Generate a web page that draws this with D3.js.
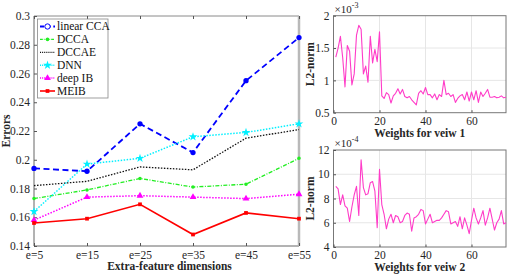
<!DOCTYPE html>
<html>
<head>
<meta charset="utf-8">
<script src="https://cdn.jsdelivr.net/npm/d3@7"></script>
<style>
  body { margin: 0; background: #fff; }
  svg { font-family: "Liberation Serif", "Times New Roman", serif; }
  .axis path { display: none; }
  .axis line { stroke: #555; }
</style>
</head>
<body>
<div id="chart"></div>
<script>
// ---- data: left panel (errors vs extra-feature dimensions)
const dims = ["e=5", "e=15", "e=25", "e=35", "e=45", "e=55"];
const linearCCA = [0.194, 0.192, 0.225, 0.205, 0.255, 0.285];
const dcca      = [0.173, 0.179, 0.187, 0.181, 0.183, 0.201];
const dccae     = [0.182, 0.185, 0.195, 0.193, 0.215, 0.221];
const dnn       = [0.164, 0.197, 0.201, 0.216, 0.219, 0.225];
const deepIB    = [0.158, 0.174, 0.175, 0.174, 0.173, 0.176];
const meib      = [0.156, 0.159, 0.169, 0.148, 0.163, 0.159];
const errTicks  = [0.14, 0.16, 0.18, 0.2, 0.22, 0.24, 0.26, 0.28, 0.3];

// ---- data: right panels (L2-norm of weights), index 1..75
const view1 = [1.36, 1.50, 1.68, 1.35, 0.90, 1.54, 1.45, 0.93, 1.10, 1.70,
  1.85, 1.79, 1.10, 1.22, 0.97, 1.68, 1.27, 1.48, 1.29, 1.75,
  0.76, 0.72, 0.81, 0.78, 0.65, 0.76, 0.80, 0.87, 0.79, 0.86,
  0.75, 0.73, 0.75, 0.70, 0.66, 0.62, 0.80, 0.84, 0.79, 0.89,
  0.78, 0.78, 0.73, 0.79, 0.70, 0.78, 0.75, 1.00, 0.78, 0.80,
  0.75, 0.78, 0.66, 0.72, 0.76, 0.78, 0.70, 0.82, 0.68, 0.82,
  0.70, 0.84, 0.66, 0.82, 0.75, 0.80, 0.86, 0.74, 0.74, 0.75,
  0.73, 0.74, 0.76, 0.73, 0.74];
const view2 = [9.0, 8.8, 7.5, 8.3, 7.4, 7.2, 6.1, 7.3, 8.3, 9.0,
  6.6, 11.2, 8.9, 8.3, 8.4, 9.3, 9.4, 8.6, 5.6, 10.4,
  7.5, 6.7, 5.5, 6.3, 6.7, 6.0, 6.6, 6.5, 6.0, 6.1,
  6.6, 6.8, 6.7, 5.3, 6.4, 6.5, 6.7, 7.1, 7.0, 5.9,
  6.3, 6.7, 6.0, 6.1, 6.2, 6.2, 6.4, 6.7, 7.0, 6.9,
  5.9, 6.0, 6.1, 5.7, 6.5, 5.5, 6.4, 5.8, 5.1, 6.2,
  7.2, 6.4, 5.9, 6.4, 7.0, 5.8, 6.4, 7.2, 6.3, 5.4,
  6.0, 6.3, 7.0, 5.9, 6.0];
const weightTicks = [0, 20, 40, 60];
const norm1Ticks = [0.5, 1, 1.5, 2];
const norm2Ticks = [4, 6, 8, 10, 12];

const W = 508, H = 276;
const svg = d3.select("#chart").append("svg")
  .attr("width", W).attr("height", H);

// axis groups get serif font (d3 sets sans-serif on them by default)
function styleAxis(g) {
  g.attr("font-family", "Liberation Serif, Times New Roman, serif")
    .attr("font-size", 11.5);
  g.selectAll("text").attr("fill", "#262626");
}

// ================= left panel =================
const L = { left: 34, right: 299, top: 16, bottom: 246 };

const x = d3.scalePoint().domain(dims).range([L.left, L.right]);
const y = d3.scaleLinear().domain([0.14, 0.3]).range([L.bottom, L.top]);

// box
svg.append("line").attr("x1", L.left).attr("x2", L.right).attr("y1", L.top).attr("y2", L.top)
  .attr("stroke", "#8a8a8a");
svg.append("line").attr("x1", L.left).attr("x2", L.left).attr("y1", L.top).attr("y2", L.bottom)
  .attr("stroke", "#666");
svg.append("line").attr("x1", L.left).attr("x2", L.right).attr("y1", L.bottom).attr("y2", L.bottom)
  .attr("stroke", "#666");
svg.append("line").attr("x1", L.right).attr("x2", L.right).attr("y1", L.top).attr("y2", L.bottom)
  .attr("stroke", "#b9b9b9").attr("stroke-width", 2.5);

svg.append("g")
  .attr("class", "axis")
  .attr("transform", `translate(0,${L.bottom})`)
  .call(d3.axisBottom(x).tickSizeInner(-3).tickSizeOuter(0).tickPadding(5))
  .call(styleAxis);

svg.append("g")
  .attr("class", "axis")
  .attr("transform", `translate(${L.left},0)`)
  .call(d3.axisLeft(y).tickValues(errTicks).tickFormat(d => String(+d.toFixed(2)))
    .tickSizeInner(-3).tickSizeOuter(0).tickPadding(4))
  .call(styleAxis);

// top ticks (mirrored)
svg.append("g")
  .attr("class", "axis")
  .attr("transform", `translate(0,${L.top})`)
  .call(d3.axisTop(x).tickSizeInner(-3).tickSizeOuter(0).tickFormat(""));

const series = [
  { name: "linear CCA", values: linearCCA, color: "#0000ff", dash: "6,3.5", width: 1.8, sym: d3.symbolCircle, size: 22 },
  { name: "DCCA",       values: dcca,      color: "#22ee22", dash: "4,1.5,1,1.5", width: 1.3, sym: d3.symbolCircle, size: 10 },
  { name: "DCCAE",      values: dccae,     color: "#111111", dash: "1.5,1.5", width: 1.3, sym: null, size: 0 },
  { name: "DNN",        values: dnn,       color: "#00f0ff", dash: "1.5,1.5", width: 1.5, sym: d3.symbolStar, size: 24 },
  { name: "deep IB",    values: deepIB,    color: "#ff00ff", dash: "1.5,1.5", width: 1.5, sym: d3.symbolTriangle, size: 20 },
  { name: "MEIB",       values: meib,      color: "#ff0000", dash: null, width: 1.6, sym: d3.symbolSquare, size: 14 }
];

const line = d3.line()
  .x((d, i) => x(dims[i]))
  .y(d => y(d));

series.forEach(s => {
  svg.append("path")
    .datum(s.values)
    .attr("fill", "none")
    .attr("stroke", s.color)
    .attr("stroke-width", s.width)
    .attr("stroke-dasharray", s.dash)
    .attr("d", line);
  if (s.sym) {
    svg.selectAll(null)
      .data(s.values)
      .enter()
      .append("path")
      .attr("transform", (d, i) => `translate(${x(dims[i])},${y(d)})`)
      .attr("d", d3.symbol().type(s.sym).size(s.size))
      .attr("fill", s.color);
  }
});

// legend
const lg = svg.append("g").attr("transform", "translate(37.5,19)");
lg.append("rect").attr("width", 70.5).attr("height", 79)
  .attr("fill", "#fff").attr("stroke", "#888").attr("stroke-width", 0.8);
series.forEach((s, i) => {
  const yy = 7.5 + i * 12.9;
  lg.append("line").attr("x1", 2.5).attr("x2", 17.5).attr("y1", yy).attr("y2", yy)
    .attr("stroke", s.color).attr("stroke-width", s.width)
    .attr("stroke-dasharray", s.dash ? s.dash.split(",").map(v => v * 0.7).join(",") : null);
  if (s.sym) {
    lg.append("path")
      .attr("transform", `translate(10,${yy})`)
      .attr("d", d3.symbol().type(s.sym).size(s.size))
      .attr("fill", s.name === "linear CCA" ? "#fff" : s.color)
      .attr("stroke", s.name === "linear CCA" ? s.color : "none")
      .attr("stroke-width", 1);
  }
  lg.append("text").attr("x", 19.5).attr("y", yy + 3.8)
    .style("font-size", "11.5px").style("fill", "#111")
    .text(s.name);
});

// axis labels
svg.append("text")
  .attr("x", (L.left + L.right) / 2 + 3).attr("y", 270)
  .attr("text-anchor", "middle")
  .style("font-size", "11.5px").style("font-weight", "bold").style("fill", "#262626")
  .text("Extra-feature dimensions");

svg.append("text")
  .attr("transform", `translate(10,${(L.top + L.bottom) / 2}) rotate(-90)`)
  .attr("text-anchor", "middle")
  .style("font-size", "11.5px").style("font-weight", "bold").style("fill", "#262626")
  .text("Errors");

// ================= right panels =================
const R = { left: 333.5, right: 506 };
const xw = d3.scaleLinear().domain([0, 75]).range([R.left, R.right]);

function normPanel(vals, top, bottom, domain, ticks, power, label) {
  const yn = d3.scaleLinear().domain(domain).range([bottom, top]);
  const g = svg.append("g");

  // grid
  g.selectAll(null).data(weightTicks.slice(1)).enter().append("line")
    .attr("x1", d => xw(d)).attr("x2", d => xw(d))
    .attr("y1", top).attr("y2", bottom)
    .attr("stroke", "#e6e6e6").attr("stroke-width", 1);
  g.selectAll(null).data(ticks.slice(1, -1)).enter().append("line")
    .attr("x1", R.left).attr("x2", R.right)
    .attr("y1", d => yn(d)).attr("y2", d => yn(d))
    .attr("stroke", "#e6e6e6").attr("stroke-width", 1);

  g.append("rect")
    .attr("x", R.left).attr("y", top)
    .attr("width", R.right - R.left).attr("height", bottom - top)
    .attr("fill", "none").attr("stroke", "#777").attr("stroke-width", 1);

  g.append("g")
    .attr("class", "axis")
    .attr("transform", `translate(0,${bottom})`)
    .call(d3.axisBottom(xw).tickValues(weightTicks).tickSizeInner(-2.5).tickSizeOuter(0).tickPadding(4))
    .call(styleAxis);
  g.append("g")
    .attr("class", "axis")
    .attr("transform", `translate(${R.left},0)`)
    .call(d3.axisLeft(yn).tickValues(ticks).tickFormat(d => String(d))
      .tickSizeInner(-2.5).tickSizeOuter(0).tickPadding(4))
    .call(styleAxis);

  const ln = d3.line()
    .x((d, i) => xw(i + 1))
    .y(d => yn(d));
  g.append("path")
    .datum(vals)
    .attr("fill", "none")
    .attr("stroke", "#ff3cc8")
    .attr("stroke-width", 1.1)
    .attr("stroke-linejoin", "round")
    .attr("d", ln);

  // exponent
  const ex = g.append("text").attr("x", R.left + 1).attr("y", top - 3)
    .style("font-size", "11px").style("fill", "#262626");
  ex.append("tspan").text("\u00d710");
  ex.append("tspan").attr("dy", -5).style("font-size", "8px").text(power);

  g.append("text")
    .attr("transform", `translate(314,${(top + bottom) / 2}) rotate(-90)`)
    .attr("text-anchor", "middle")
    .style("font-size", "11.5px").style("font-weight", "bold").style("fill", "#262626")
    .text("L2-norm");

  g.append("text")
    .attr("x", (R.left + R.right) / 2).attr("y", bottom + 24)
    .attr("text-anchor", "middle")
    .style("font-size", "11.5px").style("font-weight", "bold").style("fill", "#262626")
    .text(label);
}

normPanel(view1, 15.7, 112.7, [0.5, 2], norm1Ticks, "-3", "Weights for veiw 1");
normPanel(view2, 150, 247, [4, 12], norm2Ticks, "-4", "Weights for veiw 2");
</script>
</body>
</html>
